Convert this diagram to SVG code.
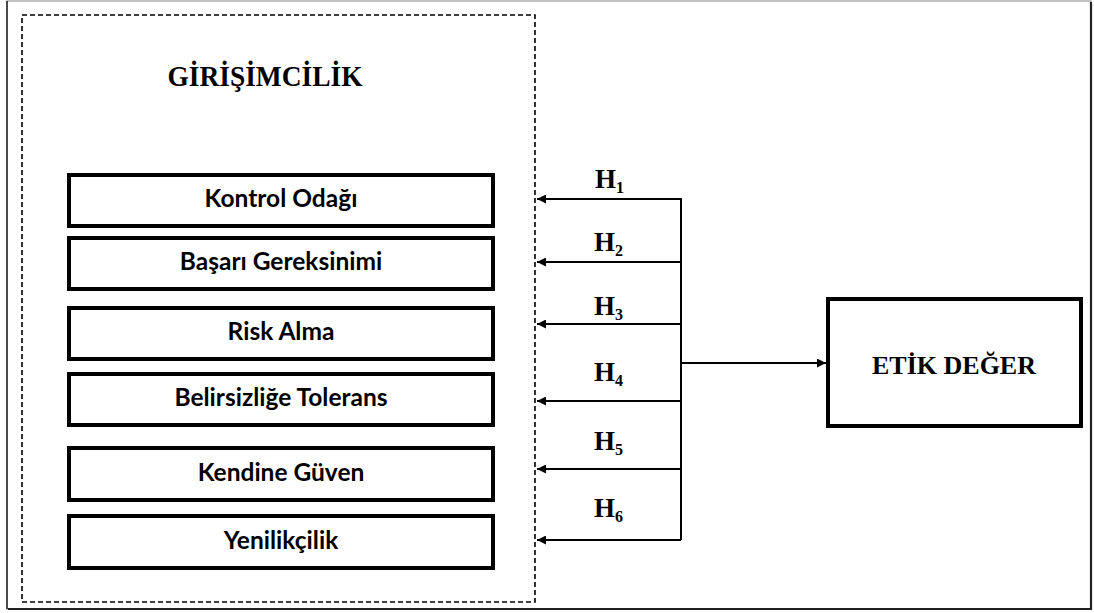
<svg xmlns="http://www.w3.org/2000/svg" width="1094" height="613" viewBox="0 0 1094 613">
  <style>
    .title { font-family: "Liberation Serif", "Times New Roman", serif; font-weight: bold; fill: #000; }
    .item { font-family: Lato, "Open Sans", sans-serif; font-weight: bold; font-size: 24.5px; fill: #000; text-anchor: middle; }
    .box { fill: #fff; stroke: #000; stroke-width: 4; }
    .hyp { font-family: "Liberation Serif", "Times New Roman", serif; font-weight: bold; font-size: 27px; fill: #000; }
    .sub { font-size: 16px; }
    .link { fill: none; stroke: #000; stroke-width: 2; }
  </style>
  <defs>
    <marker id="head" viewBox="0 0 10 10" refX="10" refY="5" markerWidth="4.5" markerHeight="4.5" orient="auto" markerUnits="strokeWidth">
      <path d="M0,0 L10,5 L0,10 z" fill="#000"/>
    </marker>
  </defs>

  <rect width="1094" height="613" fill="#fff"/>

  <!-- outer frame -->
  <g id="frame">
    <rect x="7" y="1" width="1084" height="608" fill="none" stroke="#9a9a9a" stroke-width="1.2"/>
    <path d="M1091,2 V609 H8" fill="none" stroke="#222" stroke-width="2.2"/>
    <path d="M7,1 V609" fill="none" stroke="#222" stroke-width="1.5"/>
  </g>

  <!-- entrepreneurship group -->
  <g id="girisimcilik">
    <rect x="22" y="15" width="513" height="587" fill="none" stroke="#000" stroke-width="1.6" stroke-dasharray="5,3"/>
    <text class="title" x="265" y="86" font-size="29" text-anchor="middle" textLength="195" lengthAdjust="spacingAndGlyphs">GİRİŞİMCİLİK</text>
  </g>

  <g id="kontrol-odagi">
    <rect class="box" x="69" y="175" width="424" height="51"/>
    <text class="item" x="281" y="207">Kontrol Odağı</text>
  </g>
  <g id="basari-gereksinimi">
    <rect class="box" x="69" y="238" width="424" height="51"/>
    <text class="item" x="281" y="270">Başarı Gereksinimi</text>
  </g>
  <g id="risk-alma">
    <rect class="box" x="69" y="308" width="424" height="51"/>
    <text class="item" x="281" y="340">Risk Alma</text>
  </g>
  <g id="belirsizlige-tolerans">
    <rect class="box" x="69" y="374" width="424" height="51"/>
    <text class="item" x="281" y="406">Belirsizliğe Tolerans</text>
  </g>
  <g id="kendine-guven">
    <rect class="box" x="69" y="448" width="424" height="52"/>
    <text class="item" x="281" y="481">Kendine Güven</text>
  </g>
  <g id="yenilikcilik">
    <rect class="box" x="69" y="516" width="424" height="52"/>
    <text class="item" x="281" y="549">Yenilikçilik</text>
  </g>

  <g id="etik-deger">
    <rect class="box" x="828" y="299" width="253" height="127"/>
    <text class="title" x="954" y="374" font-size="26" text-anchor="middle">ETİK DEĞER</text>
  </g>

  <!-- hypothesis connectors -->
  <g id="connectors">
    <path class="link" d="M681,198 V540"/>
    <path class="link" d="M681,363 H826" marker-end="url(#head)"/>
    <path class="link" d="M681,199 H537" marker-end="url(#head)"/>
    <path class="link" d="M681,262 H537" marker-end="url(#head)"/>
    <path class="link" d="M681,324 H537" marker-end="url(#head)"/>
    <path class="link" d="M681,401 H537" marker-end="url(#head)"/>
    <path class="link" d="M681,469 H537" marker-end="url(#head)"/>
    <path class="link" d="M681,540 H537" marker-end="url(#head)"/>
  </g>

  <g id="hypothesis-labels">
    <text class="hyp" x="595" y="188">H<tspan class="sub" dy="5">1</tspan></text>
    <text class="hyp" x="594" y="251">H<tspan class="sub" dy="5">2</tspan></text>
    <text class="hyp" x="594" y="315">H<tspan class="sub" dy="5">3</tspan></text>
    <text class="hyp" x="594" y="381">H<tspan class="sub" dy="5">4</tspan></text>
    <text class="hyp" x="594" y="450">H<tspan class="sub" dy="5">5</tspan></text>
    <text class="hyp" x="594" y="517">H<tspan class="sub" dy="5">6</tspan></text>
  </g>
</svg>
